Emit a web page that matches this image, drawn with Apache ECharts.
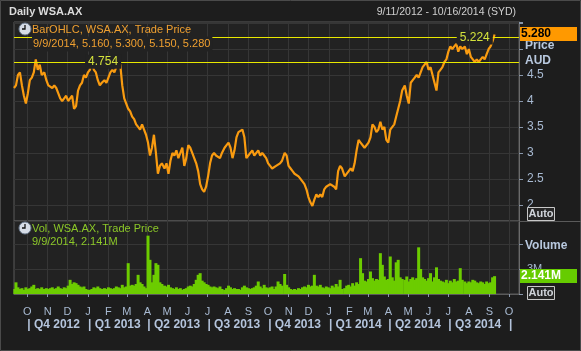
<!DOCTYPE html>
<html>
<head>
<meta charset="utf-8">
<script src="https://cdn.jsdelivr.net/npm/echarts@6/dist/echarts.min.js"></script>
<style>
  html, body { margin: 0; padding: 0; background: #1d1d1d; }
  #chart { width: 581px; height: 351px; }
</style>
</head>
<body>
<div id="chart"></div>
<script>
const firstDay = '2012-09-11'
const lastDataDay = '2014-09-09'
const axisEndDay = '2014-10-16'

const closes = [
  4.25, 4.3, 4.5, 4.55, 4.3, 4.1, 3.95, 4.15, 4.4, 4.45,
  4.55, 4.8, 4.6, 4.7, 4.5, 4.55, 4.4, 4.3, 4.3, 4.25,
  4.3, 4.25, 4.15, 4.05, 4.0, 4.05, 4.1, 4.0, 4.05, 4.1,
  3.85, 3.9, 4.2, 4.3, 4.35, 4.5, 4.45, 4.55, 4.6, 4.73,
  4.6, 4.55, 4.4, 4.3, 4.35, 4.4, 4.35, 4.45, 4.55, 4.6,
  4.55, 4.65, 4.75, 4.7, 4.3, 4.05, 3.95, 3.85, 3.8, 3.7,
  3.65, 3.55, 3.5, 3.45, 3.55, 3.45, 3.35, 3.2, 2.95, 3.1,
  3.35, 3.0, 2.6, 2.75, 2.8, 2.7, 2.8, 2.6, 2.85, 3.0,
  2.95, 3.05, 2.9, 3.0, 3.1, 2.75, 2.9, 3.15, 3.1, 3.0,
  2.9, 2.8, 2.65, 2.4, 2.3, 2.25, 2.35, 2.55, 2.8, 2.95,
  3.0, 2.95, 2.95, 2.9, 3.0, 3.1, 3.15, 3.2, 3.1, 2.9,
  3.05, 3.3, 3.4, 3.4, 3.45, 3.3, 2.9, 2.95, 3.0, 3.05,
  2.95, 3.0, 3.05, 2.95, 3.0, 2.95, 2.9, 2.8, 2.75, 2.7,
  2.7, 2.75, 2.75, 2.8, 2.85, 3.0, 2.95, 2.75, 2.7, 2.65,
  2.6, 2.6, 2.55, 2.5, 2.5, 2.4, 2.3, 2.15, 2.05, 1.98,
  2.1, 2.2, 2.15, 2.2, 2.15, 2.3, 2.35, 2.35, 2.4, 2.4,
  2.35, 2.3, 2.65, 2.75, 2.7, 2.55, 2.55, 2.65, 2.7, 2.65,
  2.8, 3.05, 3.25, 3.2, 3.2, 3.1, 3.1, 3.2, 3.3, 3.55,
  3.5, 3.4, 3.45, 3.6, 3.45, 3.5, 3.25, 3.2, 3.45, 3.45,
  3.55, 3.7, 3.85, 4.0, 4.2, 4.3, 4.1, 3.95, 4.35, 4.4,
  4.45, 4.5, 4.45, 4.55, 4.65, 4.7, 4.75, 4.6, 4.65, 4.5,
  4.35, 4.2, 4.55, 4.6, 4.65, 4.75, 4.8, 4.95, 5.05, 5.0,
  5.05, 5.1, 4.95, 5.05, 5.0, 5.05, 4.9, 5.0, 4.85, 4.8,
  4.75, 4.8, 4.75, 4.8, 4.85, 4.8, 4.9, 5.0, 5.05, 5.15,
  5.28
]

// millions
const volumes = [
  0.6, 1.4, 0.8, 0.6, 0.7, 0.5, 0.8, 0.6, 0.7, 0.9,
  1.1, 0.6, 0.7, 0.6, 0.8, 0.6, 0.7, 0.6, 0.7, 0.8,
  0.6, 0.7, 0.9, 0.7, 0.6, 0.8, 0.7, 1.0, 1.7, 1.2,
  1.4, 1.3, 1.1, 0.9, 0.8, 0.9, 0.6, 0.5, 0.5, 0.6,
  0.8, 0.7, 0.9, 0.7, 0.6, 0.7, 0.6, 0.8, 0.7, 0.6,
  0.7, 0.9, 0.8, 0.7, 1.1, 0.8, 0.9, 3.7, 1.0, 1.1,
  1.0, 1.2, 2.3, 1.4, 1.2, 0.9, 0.7, 7.0, 4.1, 1.4,
  2.3, 3.7, 3.5, 1.4, 1.2, 1.0, 0.9, 1.1, 0.8, 0.7,
  0.6, 0.8, 0.6, 0.7, 0.5, 0.6, 0.7, 0.9, 1.0, 0.9,
  1.2, 1.7, 2.3, 2.5, 1.6, 1.4, 1.2, 1.1, 0.9, 0.8,
  0.9, 0.8, 0.7, 0.9, 0.6, 0.5, 0.7, 1.0, 0.8, 0.6,
  0.7, 0.6, 0.6, 0.5, 0.8, 1.0, 0.8, 0.7, 0.6, 0.7,
  0.8, 1.0, 1.5, 0.9, 0.7, 1.1, 0.8, 0.7, 0.8, 0.9,
  0.6, 0.9, 1.5, 1.2, 1.0, 2.4, 1.1, 0.8, 0.6, 0.5,
  0.6, 0.5, 0.7, 0.6, 0.8, 0.9, 0.8, 1.1, 0.9, 1.0,
  2.3, 1.0, 0.9, 1.1, 0.8, 0.7, 0.9, 0.8, 0.7, 1.0,
  0.8, 1.2, 0.9, 1.7, 0.6, 0.7, 1.0, 1.1, 0.9, 1.3,
  1.0, 1.4, 1.2, 4.3, 2.5, 1.6, 1.5, 1.8, 2.7, 1.9,
  1.6, 1.8, 1.7, 4.9, 3.5, 2.1, 1.7, 1.8, 4.5, 2.0,
  1.6, 3.8, 4.1, 2.0, 1.8, 1.7, 2.1, 1.5, 1.8, 2.0,
  1.7, 1.9, 5.6, 3.0, 2.0, 1.8, 1.6, 1.9, 2.5, 1.5,
  2.0, 3.2, 1.8, 1.6, 1.5, 1.4, 1.7, 1.3, 1.6, 1.4,
  1.8, 1.5, 1.6, 3.1, 1.7, 1.5, 1.3, 1.5, 1.4, 1.7,
  1.6, 1.4, 1.3, 1.5, 1.4, 1.2, 1.5, 1.3, 1.4, 2.0,
  2.141
]

const refLevels = [5.224, 4.754]
const refLabelDays = ['2014-08-10', '2013-01-24']
const lastBar = ['9/9/2014', '5.160', '5.300', '5.150', '5.280']
const lastVolume = '2.141M'
const monthLetters = ['J', 'F', 'M', 'A', 'M', 'J', 'J', 'A', 'S', 'O', 'N', 'D']

function dayList(from, to) {
  let out = []
  let d = new Date(from + 'T00:00:00Z')
  let end = new Date(to + 'T00:00:00Z')
  while (d <= end) {
    out.push(d.toISOString().slice(0, 10))
    d = new Date(d.getTime() + 86400000)
  }
  return out
}
const days = dayList(firstDay, axisEndDay)
const step = days.indexOf(lastDataDay) / (closes.length - 1)
const priceData = closes.map((v, k) => [Math.round(k * step), v])
const volData = volumes.map((v, k) => [Math.round(k * step), v])

const isMonthStart = (i, v) => v.slice(8) === '01'
const isQuarterStart = (i, v) => v.slice(8) === '01' && ['01', '04', '07', '10'].indexOf(v.slice(5, 7)) >= 0
const quarterLabel = (v) => {
  if (v >= '2014-10-01') return '|'
  return '| Q' + ((+v.slice(5, 7) - 1) / 3 + 1) + ' ' + v.slice(0, 4)
}

const axisColor = '#a8bad2'
const gridColor = '#363636'
const frameColor = '#5a5a5a'
const font = 'Liberation Sans, Arial, sans-serif'

let chart = echarts.init(document.getElementById('chart'))
chart.setOption({
  backgroundColor: '#1d1d1d',
  animation: false,
  textStyle: { fontFamily: font },
  grid: [
    { left: 14, top: 22, width: 505, height: 199, show: true, backgroundColor: '#222222', borderColor: frameColor, borderWidth: 1 },
    { left: 14, top: 221, width: 505, height: 73, show: true, backgroundColor: '#222222', borderColor: frameColor, borderWidth: 1 }
  ],
  xAxis: [
    {
      type: 'category', gridIndex: 0, data: days, boundaryGap: false,
      axisLine: { show: false }, axisTick: { show: false }, axisLabel: { show: false },
      splitLine: { show: true, interval: isMonthStart, lineStyle: { color: gridColor } }
    },
    {
      type: 'category', gridIndex: 1, data: days, boundaryGap: false, offset: 6,
      axisLine: { show: true, lineStyle: { color: frameColor } },
      axisTick: { show: true, interval: isMonthStart, length: 3, lineStyle: { color: '#8896aa' } },
      axisLabel: { interval: isMonthStart, formatter: v => monthLetters[+v.slice(5, 7) - 1], color: axisColor, fontSize: 11, margin: 6 },
      splitLine: { show: true, interval: isMonthStart, lineStyle: { color: gridColor } }
    },
    {
      type: 'category', gridIndex: 1, data: days, boundaryGap: false, position: 'bottom', offset: 17,
      axisLine: { show: false }, axisTick: { show: false }, splitLine: { show: false },
      axisLabel: { interval: isQuarterStart, formatter: quarterLabel, align: 'left', color: '#b4c4dc', fontSize: 12, fontWeight: 'bold' }
    }
  ],
  yAxis: [
    {
      type: 'value', gridIndex: 0, position: 'right', min: 1.69, max: 5.52, splitNumber: 8,
      axisLine: { show: true, lineStyle: { color: '#6a6a6a' } },
      axisTick: { show: true, length: 4, lineStyle: { color: '#8896aa' } },
      axisLabel: { formatter: v => (v >= 2 && v <= 4.5) ? String(v) : '', color: axisColor, fontSize: 12, margin: 8 },
      splitLine: { lineStyle: { color: gridColor } }
    },
    {
      type: 'value', gridIndex: 1, position: 'right', min: 0, max: 8.76, interval: 3,
      axisLine: { show: true, lineStyle: { color: '#6a6a6a' } },
      axisTick: { show: true, length: 4, lineStyle: { color: '#8896aa' } },
      axisLabel: { formatter: v => v === 3 ? '3M' : '', color: axisColor, fontSize: 11, margin: 8 },
      splitLine: { lineStyle: { color: gridColor } }
    }
  ],
  series: [
    {
      name: 'BarOHLC', type: 'line', xAxisIndex: 0, yAxisIndex: 0, data: priceData,
      showSymbol: false, lineStyle: { color: '#f99b10', width: 2.2 }, z: 3,
      markLine: {
        silent: true, symbol: 'none', label: { show: false },
        lineStyle: { color: '#e8e800', width: 1, type: 'solid' },
        data: refLevels.map(v => ({ yAxis: v }))
      }
    },
    {
      name: 'Vol', type: 'bar', xAxisIndex: 1, yAxisIndex: 1, data: volData,
      barWidth: 3, itemStyle: { color: '#6ccc00' }
    }
  ]
})

// overlay texts, boxes placed from the axis scales
const yPrice = v => chart.convertToPixel({ yAxisIndex: 0 }, v)
const yVol = v => chart.convertToPixel({ yAxisIndex: 1 }, v)
const xDay = d => chart.convertToPixel({ xAxisIndex: 0 }, days.indexOf(d))

function clock(cx, cy) {
  return [
    { type: 'circle', shape: { cx: cx, cy: cy, r: 6 }, style: { fill: '#d6dce6', stroke: '#6d7c90', lineWidth: 1 }, z: 100 },
    { type: 'polyline', shape: { points: [[cx, cy - 4], [cx, cy], [cx - 3, cy]] }, style: { stroke: '#111', lineWidth: 1.3, fill: null }, z: 101 }
  ]
}
function txt(x, y, text, fill, size, weight, align, extra) {
  return {
    type: 'text', z: 100,
    style: Object.assign({ x: x, y: y, text: text, fill: fill, font: (weight || 'normal') + ' ' + size + 'px ' + font, align: align || 'left', verticalAlign: 'middle' }, extra || {})
  }
}
function valueBox(y, text, bg, fg) {
  return [
    { type: 'rect', shape: { x: 520, y: Math.round(y) - 7, width: 57, height: 14 }, style: { fill: bg }, z: 100 },
    txt(521, Math.round(y), text, fg, 12, 'bold')
  ]
}
function autoBox(y) {
  return [
    { type: 'rect', shape: { x: 527.5, y: y - 6.5, width: 27, height: 13 }, style: { fill: '#262626', stroke: '#c8c8c8', lineWidth: 1 }, z: 100 },
    txt(541, y, 'Auto', '#d0d4da', 11, 'bold', 'center')
  ]
}

let g = [
  { type: 'rect', shape: { x: 0.5, y: 0.5, width: 580, height: 350 }, style: { fill: null, stroke: '#4a4a4a', lineWidth: 1 }, z: 100 },
  { type: 'line', shape: { x1: 519, y1: 221.5, x2: 581, y2: 221.5 }, style: { stroke: frameColor, lineWidth: 1 }, z: 100 },
  txt(9, 12, 'Daily WSA.AX', '#dcdcdc', 11, 'bold'),
  txt(516, 12, '9/11/2012 - 10/16/2014 (SYD)', '#cfcfcf', 10.5, 'normal', 'right'),
  txt(32, 30, 'BarOHLC, WSA.AX, Trade Price', '#f0a030', 11),
  txt(32, 44, lastBar.join(', '), '#f0a030', 11, 'normal', 'left', { backgroundColor: '#222222', padding: [2, 2, 2, 1] }),
  txt(32, 229, 'Vol, WSA.AX, Trade Price', '#8cc828', 11),
  txt(32, 242, lastBar[0] + ', ' + lastVolume, '#8cc828', 11),
  txt(525, 46, 'Price', '#b8c8de', 12, 'bold'),
  txt(525, 61, 'AUD', '#b8c8de', 12, 'bold'),
  txt(525, 246, 'Volume', '#b8c8de', 12, 'bold')
]
g = g.concat(clock(25, 29), clock(25, 228))
refLevels.forEach((v, i) => {
  g.push(txt(xDay(refLabelDays[i]), yPrice(v), v.toFixed(3), '#d4e23c', 12, 'normal', 'center', { backgroundColor: '#222222', padding: [1, 3] }))
})
g = g.concat(valueBox(yPrice(closes[closes.length - 1]), lastBar[4], '#ff9900', '#000000'))
g = g.concat(valueBox(yVol(volumes[volumes.length - 1]), lastVolume, '#66cc00', '#ffffff'))
g = g.concat(autoBox(214), autoBox(293))
chart.setOption({ graphic: g })
</script>
</body>
</html>
